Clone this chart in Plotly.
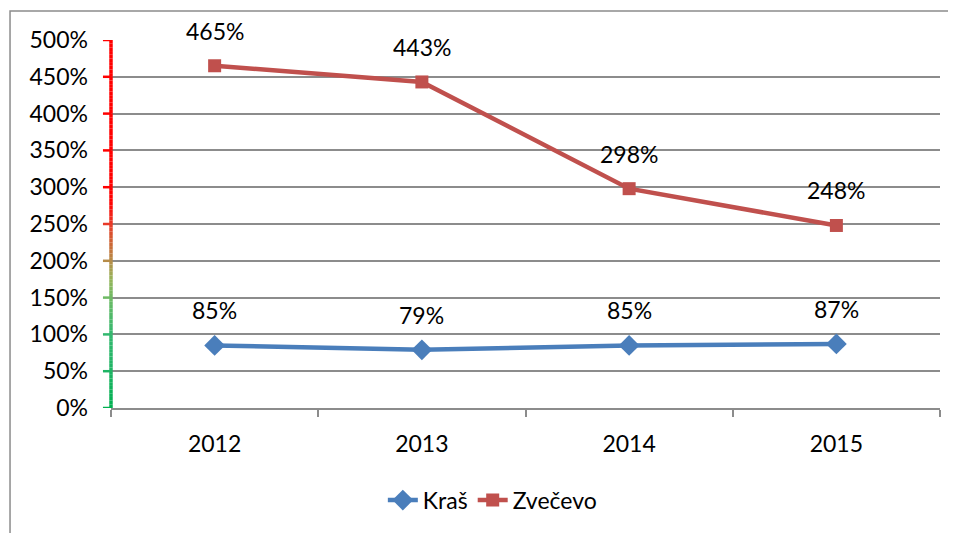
import plotly.graph_objects as go

# -----------------------------------------------------------------------------
# Data (in percent)
# -----------------------------------------------------------------------------
years = ["2012", "2013", "2014", "2015"]
kras = [85, 79, 85, 87]
zvecevo = [465, 443, 298, 248]
y_ticks = [0, 50, 100, 150, 200, 250, 300, 350, 400, 450, 500]

BLUE = "#4A7EBB"
RED = "#C0504D"
GRID = "#8C8C8C"
FONT = "Lato"

# Colour stops for the gradient y axis line (green bottom -> red top)
axis_stops = [
    (0, (0, 176, 80)),
    (50, (30, 180, 100)),
    (100, (50, 184, 110)),
    (150, (110, 186, 100)),
    (175, (150, 180, 90)),
    (200, (182, 140, 72)),
    (225, (205, 100, 52)),
    (250, (232, 58, 40)),
    (280, (255, 0, 0)),
    (500, (255, 0, 0)),
]


def axis_color(v):
    """Linear interpolation of the axis gradient at value v."""
    for (v0, c0), (v1, c1) in zip(axis_stops[:-1], axis_stops[1:]):
        if v0 <= v <= v1:
            t = (v - v0) / (v1 - v0) if v1 > v0 else 0
            r, g, b = (round(a + (b_ - a) * t) for a, b_ in zip(c0, c1))
            return f"rgb({r},{g},{b})"
    return "rgb(255,0,0)"


fig = go.Figure()

fig.add_trace(
    go.Scatter(
        x=years, y=kras, name="Kraš",
        mode="lines+markers",
        line=dict(color=BLUE, width=4.5),
        marker=dict(symbol="diamond", size=16, color=BLUE),
        cliponaxis=False,
    )
)
fig.add_trace(
    go.Scatter(
        x=years, y=zvecevo, name="Zvečevo",
        mode="lines+markers",
        line=dict(color=RED, width=4.5),
        marker=dict(symbol="square", size=13, color=RED),
        cliponaxis=False,
    )
)

# Data labels sit well above each point
# (category axis annotations take the category index, not the label)
for series in (kras, zvecevo):
    for i, val in enumerate(series):
        fig.add_annotation(
            x=i, y=val, xref="x", yref="y",
            text=f"{val}%", showarrow=False,
            yshift=35, font=dict(size=23, color="black", family=FONT),
        )

# Gradient y axis line, drawn as short segments
step = 5
for v in range(0, 500, step):
    fig.add_shape(
        type="line", xref="paper", yref="y",
        x0=0, x1=0, y0=v, y1=v + step,
        line=dict(color=axis_color(v + step / 2), width=3.5),
        layer="above",
    )
# Coloured tick marks on the left of the axis line (8 px of a 829 px plot)
for v in y_ticks:
    fig.add_shape(
        type="line", xref="paper", yref="y",
        x0=-0.0097, x1=0, y0=v, y1=v,
        line=dict(color=axis_color(v), width=2.5),
        layer="above",
    )
# Outer chart border (partly cut off on the right and bottom)
fig.add_shape(
    type="rect", xref="paper", yref="paper",
    x0=-0.1218, x1=1.03, y0=-0.38, y1=1.0786,
    line=dict(color=GRID, width=1.5),
    layer="below",
)

# the page body has an 8 px margin, so the figure is sized to fit inside it
fig.update_layout(
    width=948,
    height=525,
    margin=dict(l=103, r=16, t=32, b=124),
    paper_bgcolor="white",
    plot_bgcolor="white",
    font=dict(family=FONT, size=23, color="black"),
    showlegend=True,
    legend=dict(
        orientation="h",
        x=0.46, xanchor="center",
        y=-0.247, yanchor="middle",
        font=dict(size=23, family=FONT),
    ),
)

fig.update_xaxes(
    type="category",
    range=[-0.5, 3.5],
    showgrid=False,
    showline=True, linecolor=GRID, linewidth=1.5,
    ticks="outside", tickson="boundaries", ticklen=7, tickcolor=GRID, tickwidth=1.5,
    tickfont=dict(size=23),
    ticklabelstandoff=15,
    zeroline=False,
)
fig.update_yaxes(
    range=[0, 500],
    tickmode="array",
    tickvals=y_ticks,
    ticktext=[f"{v}%" for v in y_ticks],
    showgrid=True, gridcolor=GRID, gridwidth=1.5,
    showline=False,
    ticks="",
    ticklabelstandoff=22,
    tickfont=dict(size=23),
    zeroline=False,
)

fig.write_html("out.html")
